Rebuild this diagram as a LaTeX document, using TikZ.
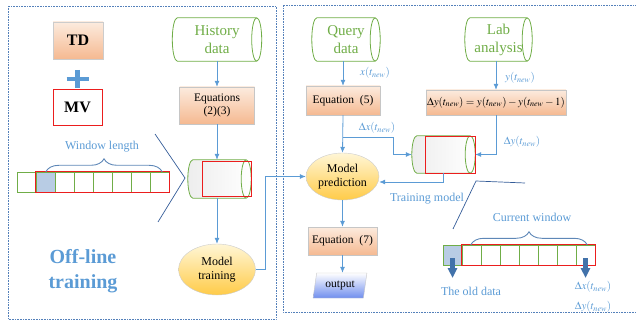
\documentclass[tikz,border=0pt]{standalone}
\usepackage{mathptmx}
\usepackage{fontspec}
\setmainfont{Liberation Serif}
\usetikzlibrary{shapes.geometric,arrows.meta,decorations.pathreplacing,positioning,calc}
\definecolor{lineblue}{RGB}{91,155,213}
\definecolor{txtblue}{RGB}{91,155,213}
\definecolor{datagreen}{RGB}{112,173,71}
\definecolor{peachtop}{RGB}{252,235,222}
\definecolor{peachbot}{RGB}{245,185,145}
\definecolor{goldtop}{RGB}{255,246,214}
\definecolor{goldbot}{RGB}{255,203,72}
\definecolor{framecol}{RGB}{84,128,186}
\definecolor{dkblue}{RGB}{52,92,152}
\definecolor{cellblue}{RGB}{184,204,228}
\definecolor{winred}{RGB}{235,30,30}
\definecolor{dropblue}{RGB}{66,114,170}
\definecolor{outblue}{RGB}{112,142,238}
\tikzset{frame/.style={draw=framecol, densely dotted, line width=0.6pt},
    eqbox/.style={draw=gray!45, top color=peachtop, bottom color=peachbot,
        align=center, inner sep=1pt, font=\fontsize{11.5}{13.5}\selectfont},
    srcbox/.style={minimum width=50pt, minimum height=37pt,
        font=\bfseries\fontsize{16}{18}\selectfont},
    database/.style={text=datagreen, align=center, inner sep=1pt,
        minimum height=43pt, font=\fontsize{15}{18}\selectfont},
    cylline/.style={draw=datagreen, line width=0.8pt},
    model/.style={ellipse, draw=gray!40, top color=goldtop, bottom color=goldbot,
        align=center, inner sep=0pt, font=\fontsize{12}{14}\selectfont},
    outbox/.style={trapezium, trapezium left angle=80, trapezium right angle=100,
        trapezium stretches=true, draw=gray!45, top color=white,
        bottom color=outblue, minimum width=54pt, minimum height=25pt,
        font=\fontsize{11.5}{13}\selectfont},
    cell/.style={draw=datagreen, minimum width=19pt, minimum height=20pt,
        inner sep=0pt},
    flow/.style={draw=lineblue, line width=0.8pt, -{Latex[length=6pt,width=5pt]}},
    lbl/.style={text=txtblue, font=\fontsize{11}{13}\selectfont},
    winbrace/.style={draw=dropblue!85, line width=0.9pt,
        decorate, decoration={brace, amplitude=13pt}},
    zoomline/.style={draw=dkblue, line width=0.7pt},
    dataout/.style={draw=dropblue, line width=4.5pt,
        -{Triangle[length=10pt,width=9pt]}},
    }
% lying cylinder round a named node
\newcommand\datacyl[2][]{%
  \path[cylline,#1] let \p1=(#2.north west), \p2=(#2.south east), \n1={(\y1-\y2)/2} in
    (\x1+5pt,\y1) arc[start angle=90, end angle=270, x radius=5pt, y radius=\n1]
    -- (\x2-5pt,\y2) arc[start angle=-90, end angle=90, x radius=5pt, y radius=\n1] -- cycle
    (\x2-5pt,\y1) arc[start angle=90, end angle=270, x radius=5pt, y radius=\n1];}
\begin{document}
\begin{tikzpicture}[x=1pt,y=-1pt]
\useasboundingbox (0,0) rectangle (636,320);
\draw[frame] (8,6) rectangle (276,319);
\draw[frame] (640,5) -| (283,312) -- (640,312);

% off-line part
\node[srcbox, draw=gray!40, top color=peachtop, bottom color=peachbot] (td) at (78,40.5) {TD};
\node[srcbox, draw=winred, line width=0.8pt, fill=white, minimum width=49pt, minimum height=36pt] (mv) at (77.5,107) {MV};
\draw[draw=lineblue, line width=4.5pt] (77.5,70) -- (77.5,88) (66.5,79) -- (88.5,79);
\node[database, minimum width=89pt] (hist) at (217,39.5) {History\\data};
\datacyl{hist}
\node[eqbox, minimum width=75pt, minimum height=37pt] (eq23) at (217,105.5) {Equations\\(2)(3)};
\node[database, minimum width=63pt, minimum height=38pt] (trainset) at (219.5,179) {};
\datacyl[left color=gray!14, right color=white]{trainset}
\draw[winred, line width=0.9pt] ([xshift=-49pt,yshift=17.5pt]trainset.east) rectangle ([yshift=-17.5pt]trainset.east);
\node[model, minimum width=77pt, minimum height=51pt] (mtrain) at (217,269.5) {Model\\training};
\foreach \f [count=\i from 0] in {white,cellblue,white,white,white,white,white,white}
    \node[cell, fill=\f] (lc\i) at ({26.5+19*\i},182) {};
\draw[winred, line width=0.8pt] (lc1.north west) rectangle (lc7.south east);
\draw[winbrace] ([xshift=10pt]lc1.north west) -- ([xshift=-7pt]lc7.north east);
\node[lbl, font=\fontsize{12}{14}\selectfont] (wlen) at (102,147) {Window length};
\draw[zoomline] (155,134) -- (185,178) -- (158,222);
\node[text=txtblue, align=center, font=\bfseries\fontsize{20}{25}\selectfont] (offline) at (83,271) {Off-line\\training};

\draw[flow] (hist.south) -- (eq23.north);
\draw[flow] (eq23.south) -- (eq23.south |- trainset.north);
\draw[flow] (trainset.south -| mtrain.north) -- (mtrain.north);

% on-line part
\node[database, minimum width=68pt] (query) at (346,39.5) {Query\\data};
\datacyl{query}
\node[database, minimum width=67pt] (lab) at (498.5,39.5) {Lab\\analysis};
\datacyl{lab}
\node[eqbox, minimum width=74pt, minimum height=29pt] (eq5) at (343,100.5) {Equation\ \ (5)};
\node[eqbox, minimum width=138pt, minimum height=25pt, font=\fontsize{11}{13}\selectfont] (dybox) at (496,102.5)
    {$\Delta y(t_{new})=y(t_{new})-y(t_{new}-1)$};
\node[database, minimum width=63pt, minimum height=37pt] (updset) at (443.5,154.5) {};
\datacyl[left color=gray!14, right color=white]{updset}
\draw[winred, line width=0.9pt] ([xshift=-50pt,yshift=18.5pt]updset.east) rectangle ([yshift=-18.5pt]updset.east);
\node[model, minimum width=73pt, minimum height=47pt] (mpred) at (342.5,176.5) {Model\\prediction};
\node[eqbox, minimum width=69pt, minimum height=28pt] (eq7) at (342.5,241) {Equation\ \ (7)};
\node[outbox] (out) at (340,285.5) {output};

\coordinate (split) at (343,137);
\draw[flow] (mtrain.east) -- ++(10,0) |- (mpred.west);
\draw[flow] (eq5.north |- query.south) -- (eq5.north);
\node[lbl] (xnew) at (375,73) {$x(t_{new})$};
\draw[flow] (eq5.south) -- (mpred.north);
\draw[flow] (split) -- ++(50,0) |- (updset.west);
\node[lbl] (dxnew) at (377,128) {$\Delta x(t_{new})$};
\draw[flow] (dybox.north |- lab.south) -- (dybox.north);
\node[lbl] (ynew) at (520,78) {$y(t_{new})$};
\draw[flow] (dybox.south) |- (updset.east);
\node[lbl] (dynew) at (522,142) {$\Delta y(t_{new})$};
\draw[flow] (updset.south) |- ([yshift=-5.5pt]mpred.east);
\node[lbl, font=\fontsize{12}{14}\selectfont] (trmodel) at (427,199) {Training model};
\draw[flow] (mpred.south) -- (eq7.north);
\draw[flow] (eq7.south) -- (eq7.south |- out.north);

% moving window
\draw[zoomline] (453,229) -- (476,181) -- (525,183);
\foreach \f [count=\i from 0] in {cellblue,white,white,white,white,white,white,white}
    \node[cell, fill=\f] (rc\i) at ({452.5+19*\i},255) {};
\draw[winred, line width=0.8pt] (rc1.north west) rectangle (rc7.south east);
\draw[winbrace] ([xshift=9pt]rc1.north west) -- ([xshift=-8pt]rc7.north east);
\node[lbl, font=\fontsize{12}{14}\selectfont] (curwin) at (532,217) {Current window};
\draw[dataout] ([yshift=-3pt]rc0.center) -- ++(0,20);
\draw[dataout] ([yshift=-3pt]rc7.center) -- ++(0,20);
\node[lbl, font=\fontsize{12}{14}\selectfont] (olddata) at (471,291) {The old data};
\node[lbl] (dxout) at (593,287) {$\Delta x(t_{new})$};
\node[lbl] (dyout) at (593,307) {$\Delta y(t_{new})$};
\end{tikzpicture}
\end{document}
